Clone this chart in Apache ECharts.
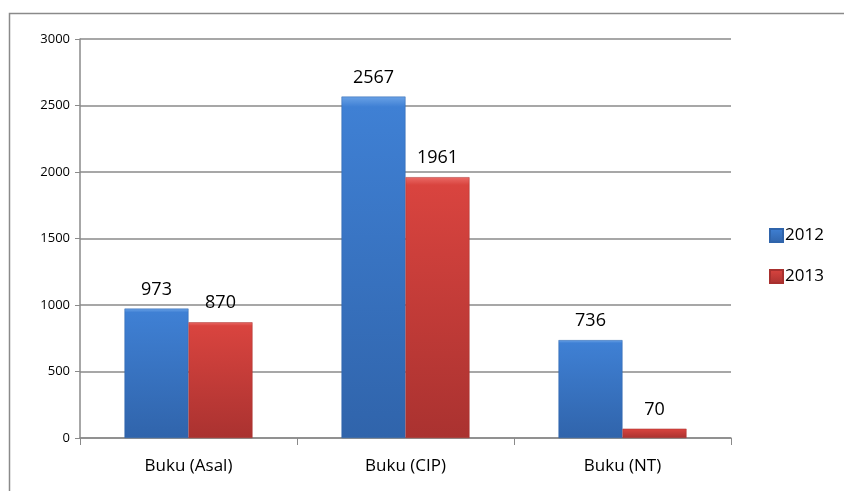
<!DOCTYPE html>
<html>
<head>
<meta charset="utf-8">
<script src="https://cdn.jsdelivr.net/npm/echarts@6/dist/echarts.min.js"></script>
<style>
  html, body { margin: 0; padding: 0; background: #fff; }
  #main { width: 844px; height: 491px; }
</style>
</head>
<body>
<div id="main"></div>
<script>
// data
var categories = ['Buku (Asal)', 'Buku (CIP)', 'Buku (NT)'];
var values2012 = [973, 2567, 736];
var values2013 = [870, 1961, 70];
var seriesNames = ['2012', '2013'];

var chart = echarts.init(document.getElementById('main'));

function barFill(light, mid, dark) {
    return new echarts.graphic.LinearGradient(0, 0, 0, 1, [
        { offset: 0, color: light },
        { offset: 0.03, color: mid },
        { offset: 1, color: dark }
    ]);
}

var blueFill = barFill('#6aa2e6', '#3f80d4', '#3064ab');
var redFill = barFill('#ea6a66', '#d9443f', '#aa3230');

chart.setOption({
    animation: false,
    textStyle: { fontFamily: 'Open Sans' },
    graphic: [{
        type: 'rect',
        shape: { x: 9.5, y: 13.5, width: 840, height: 490 },
        style: { fill: 'none', stroke: '#8a8a8a', lineWidth: 1.5 }
    }],
    grid: { left: 80, right: 113, top: 39, bottom: 53 },
    legend: {
        orient: 'vertical',
        left: 764,
        top: 222,
        icon: 'rect',
        itemWidth: 13,
        itemHeight: 13,
        itemGap: 24,
        textStyle: { fontSize: 17, color: '#000', padding: [0, 0, 0, -3] },
        data: seriesNames
    },
    xAxis: {
        type: 'category',
        data: categories,
        axisLine: { lineStyle: { color: '#8a8a8a', width: 1.5 } },
        axisTick: { show: true, length: 7, lineStyle: { color: '#8a8a8a' } },
        axisLabel: { fontSize: 17, color: '#000', margin: 20 }
    },
    yAxis: {
        type: 'value',
        min: 0,
        max: 3000,
        interval: 500,
        axisLine: { show: true, lineStyle: { color: '#8a8a8a', width: 1.5 } },
        axisTick: { show: true, length: 5, lineStyle: { color: '#8a8a8a' } },
        splitLine: { lineStyle: { color: '#8a8a8a', width: 1.5 } },
        axisLabel: { fontSize: 13, color: '#000', margin: 10, formatter: function (v) { return String(v); } }
    },
    series: [{
        name: seriesNames[0],
        type: 'bar',
        data: values2012,
        barGap: '0%',
        barCategoryGap: '41%',
        itemStyle: { color: blueFill, borderColor: '#2f64ab', borderWidth: 0.5 },
        label: { show: true, position: 'top', fontSize: 18, color: '#000', distance: 10 }
    }, {
        name: seriesNames[1],
        type: 'bar',
        data: values2013,
        itemStyle: { color: redFill, borderColor: '#a8302e', borderWidth: 0.5 },
        label: { show: true, position: 'top', fontSize: 18, color: '#000', distance: 10 }
    }]
});

window.onresize = chart.resize;
</script>
</body>
</html>
